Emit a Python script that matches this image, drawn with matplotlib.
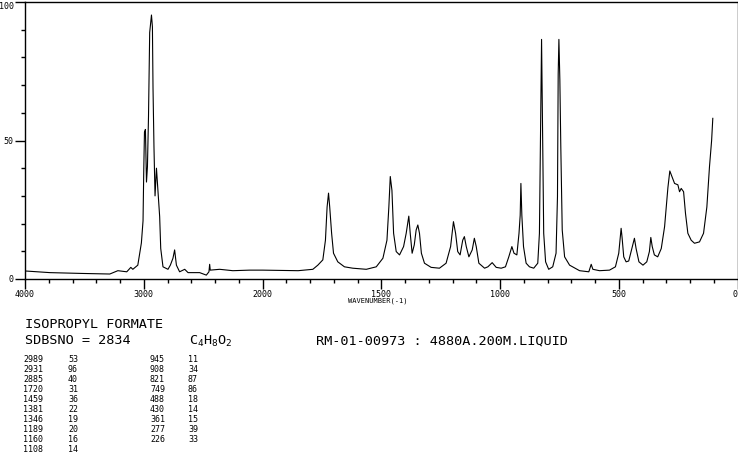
import numpy as np
import matplotlib
matplotlib.use("Agg")
import matplotlib.pyplot as plt
from matplotlib.ticker import FixedLocator, NullFormatter

plt.rcParams['mathtext.default'] = 'regular'
MONO = 'DejaVu Sans Mono'

# traced Raman spectrum (wavenumber cm-1, relative intensity)
wavenumber = [4000, 3790, 3513, 3286, 3218, 3143, 3109, 3092, 3050, 3020,
              3006, 3000, 2994, 2986, 2977, 2969, 2960, 2950, 2935, 2927,
              2922, 2914, 2905, 2893, 2882, 2866, 2857, 2838, 2796, 2776,
              2754, 2740, 2725, 2698, 2655, 2627, 2529, 2473, 2451, 2445,
              2440, 2361, 2250, 2109, 2000, 1850, 1788, 1767, 1746, 1735,
              1728, 1722, 1717, 1709, 1701, 1683, 1655, 1620, 1563, 1521,
              1493, 1476, 1468, 1462, 1455, 1448, 1437, 1423, 1406, 1395,
              1384, 1378, 1370, 1361, 1353, 1346, 1339, 1331, 1318, 1290,
              1255, 1227, 1208, 1196, 1187, 1178, 1168, 1157, 1150, 1142,
              1131, 1117, 1108, 1100, 1089, 1065, 1051, 1033, 1016, 995,
              977, 963, 950, 941, 929, 920, 915, 912, 908, 901,
              890, 876, 858, 841, 834, 830, 825, 822, 820, 816,
              808, 795, 778, 764, 758, 755, 752, 748, 744, 738,
              728, 707, 665, 626, 616, 609, 581, 539, 514, 500,
              490, 486, 479, 469, 458, 443, 434, 427, 415, 398,
              382, 371, 365, 359, 350, 336, 321, 307, 293, 285,
              276, 265, 251, 244, 237, 227, 219, 209, 195, 181,
              160, 143, 129, 118, 109, 104]
intensity = [2.9, 2.3, 2.0, 1.8, 3.0, 2.6, 4.2, 3.5, 5.0, 13.0,
             21.0, 39.0, 53.0, 54.0, 35.0, 40.5, 58.6, 89.0, 95.3, 91.0,
             69.0, 47.8, 30.0, 40.0, 33.0, 22.5, 11.0, 4.4, 3.5, 5.0,
             7.5, 10.5, 5.0, 2.6, 3.5, 2.3, 2.3, 1.4, 2.6, 5.3,
             3.2, 3.5, 3.0, 3.2, 3.2, 3.0, 3.5, 5.0, 6.9, 14.0,
             26.0, 31.0, 26.0, 16.5, 9.3, 6.2, 4.4, 3.9, 3.5, 4.4,
             7.5, 14.0, 26.0, 37.0, 32.0, 16.5, 9.9, 8.7, 11.7, 16.5,
             22.7, 16.5, 9.3, 12.3, 17.7, 19.5, 16.5, 9.3, 5.7, 4.2,
             3.9, 5.7, 11.7, 20.7, 16.5, 9.9, 8.7, 14.0, 15.3, 11.7,
             8.0, 10.5, 14.7, 11.7, 5.7, 3.9, 4.4, 5.9, 4.2, 3.9,
             4.4, 8.0, 11.7, 9.3, 8.7, 16.5, 23.0, 34.5, 23.0, 11.7,
             5.7, 4.4, 3.9, 5.7, 16.5, 47.8, 86.5, 65.0, 47.8, 16.5,
             6.2, 3.5, 4.4, 9.3, 29.7, 74.0, 86.5, 72.0, 47.8, 17.7,
             8.0, 5.0, 3.0, 2.6, 5.3, 3.5, 3.0, 3.2, 4.4, 9.3,
             18.3, 15.0, 8.0, 6.2, 6.5, 11.7, 14.7, 11.0, 6.2, 5.0,
             6.2, 9.9, 15.0, 11.7, 8.7, 8.0, 11.0, 18.9, 33.0, 39.0,
             37.0, 34.5, 34.0, 31.5, 32.7, 31.5, 23.7, 16.5, 14.0, 12.9,
             13.4, 16.5, 26.0, 40.5, 50.0, 58.0]

# peak table
peak_pos_1 = ['2989', '2931', '2885', '1720', '1459', '1381', '1346', '1189', '1160', '1108']
peak_int_1 = ['53', '96', '40', '31', '36', '22', '19', '20', '16', '14']
peak_pos_2 = ['945', '908', '821', '749', '488', '430', '361', '277', '226']
peak_int_2 = ['11', '34', '87', '86', '18', '14', '15', '39', '33']

x_labels = [4000, 3000, 2000, 1500, 1000, 500, 0]
x_minor = list(range(4000, 2000, -200)) + list(range(2000, -1, -100))
y_labels = [0, 50, 100]


def fwd(w):
    w = np.asarray(w, dtype=float)
    return np.where(w > 2000, 2000 + (w - 2000) / 2.0, w)


def inv(u):
    u = np.asarray(u, dtype=float)
    return np.where(u > 2000, 2000 + (u - 2000) * 2.0, u)


W, H = 738, 457
fig = plt.figure(figsize=(W / 100, H / 100), dpi=100)
ax = fig.add_axes([25 / W, (H - 279) / H, 712.5 / W, 277 / H])

ax.plot(wavenumber, intensity, color='black', lw=0.8)
ax.set_xscale('function', functions=(fwd, inv))
ax.set_xlim(4000, 0)
ax.set_ylim(0, 100)

for s in ax.spines.values():
    s.set_linewidth(1.0)
    s.set_color('black')

ax.xaxis.set_major_locator(FixedLocator(x_labels))
ax.xaxis.set_minor_locator(FixedLocator(x_minor))
ax.xaxis.set_minor_formatter(NullFormatter())
ax.set_xticklabels([str(v) for v in x_labels], fontfamily=MONO, fontsize=6)
ax.get_xticklabels()[-1].set_ha('right')
ax.yaxis.set_major_locator(FixedLocator(y_labels))
ax.yaxis.set_minor_locator(FixedLocator(list(range(0, 101, 10))))
ax.yaxis.set_minor_formatter(NullFormatter())
ax.set_yticklabels([str(v) for v in y_labels], fontfamily=MONO, fontsize=6)
ax.get_yticklabels()[-1].set_va('top')
ax.tick_params(which='major', direction='out', length=7, width=1, pad=1)
ax.tick_params(which='minor', direction='out', length=3, width=1)
ax.tick_params(axis='x', which='both', top=False)
ax.tick_params(axis='y', which='both', right=False)

fig.text(378 / W, 1 - 301 / H, 'WAVENUMBER(-1)', fontfamily=MONO, fontsize=5,
         ha='center', va='center')


def put(x, y, s, size, **kw):
    fig.text(x / W, 1 - y / H, s, fontfamily=MONO, fontsize=size,
             ha='left', va='center', **kw)


put(25, 324, 'ISOPROPYL FORMATE', 9.7)
put(25, 341, 'SDBSNO = 2834', 9.7)
put(189, 341, 'C$_4$H$_8$O$_2$', 9.7)
put(316, 341, 'RM-01-00973 : 4880A.200M.LIQUID', 9.7)

row0, dy = 360, 9.9
for i, (p, v) in enumerate(zip(peak_pos_1, peak_int_1)):
    put(23, row0 + i * dy, p, 6)
    put(68, row0 + i * dy, v, 6)
for i, (p, v) in enumerate(zip(peak_pos_2, peak_int_2)):
    put(150, row0 + i * dy, p, 6)
    put(188, row0 + i * dy, v, 6)

fig.savefig('out.png', dpi=100)
